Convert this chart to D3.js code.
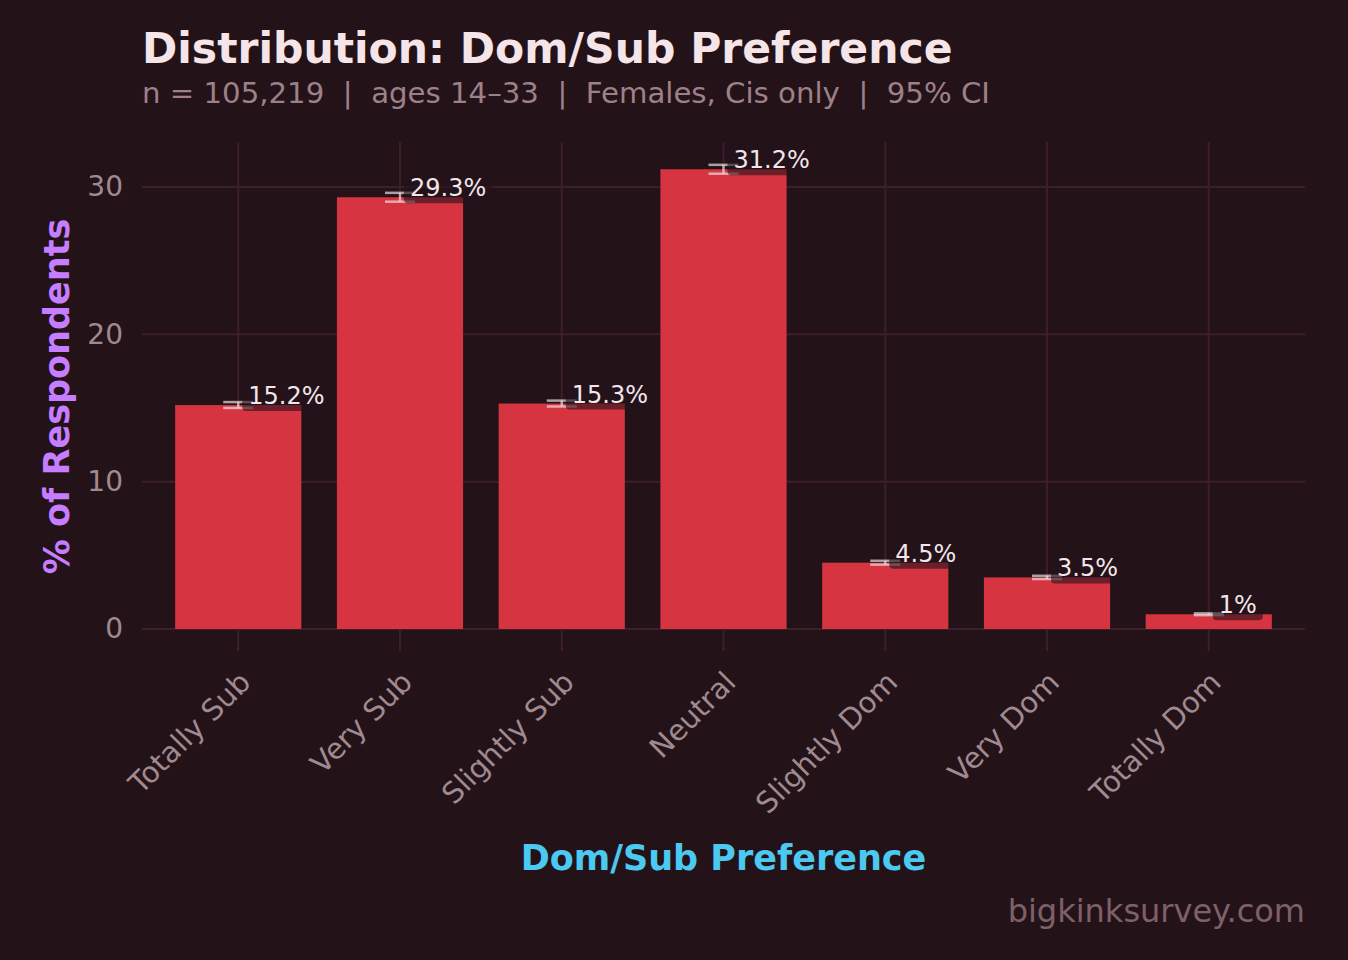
<!DOCTYPE html>
<html><head><meta charset="utf-8">
<script src="https://cdn.jsdelivr.net/npm/d3@7"></script>
<style>
html,body{margin:0;padding:0;background:#231319;}
svg{display:block;font-family:"DejaVu Sans",sans-serif;}
</style></head>
<body>
<svg id="chart" width="1348" height="960"></svg>
<script>
const categories = ["Totally Sub","Very Sub","Slightly Sub","Neutral","Slightly Dom","Very Dom","Totally Dom"];
const values = [15.2, 29.3, 15.3, 31.2, 4.5, 3.5, 1.0];
const valueLabels = ["15.2%","29.3%","15.3%","31.2%","4.5%","3.5%","1%"];
const ciLow = [15.0, 29.0, 15.1, 30.9, 4.37, 3.39, 0.94];
const ciHigh = [15.4, 29.6, 15.5, 31.5, 4.63, 3.61, 1.06];
const yTicks = [0, 10, 20, 30];
const titleText = "Distribution: Dom/Sub Preference";
const subtitleText = "n = 105,219  |  ages 14\u201333  |  Females, Cis only  |  95% CI";
const xTitle = "Dom/Sub Preference";
const yTitle = "% of Respondents";
const watermark = "bigkinksurvey.com";

const svg = d3.select("#chart");
const L = 142, R = 1305, T = 142, B = 629;
svg.append("rect").attr("width",1348).attr("height",960).attr("fill","#231319");

const x = d3.scaleBand().domain(categories).range([L,R]).paddingInner(0.22).paddingOuter(0.205);
const y = d3.scaleLinear().domain([0,33.05]).range([B,T]);

// grid
const g = svg.append("g");
g.selectAll(".hg").data(yTicks).join("line")
  .attr("x1",L).attr("x2",R).attr("y1",d=>y(d)).attr("y2",d=>y(d))
  .attr("stroke","#3e1e2a").attr("stroke-width",2);
g.selectAll(".vg").data(categories).join("line")
  .attr("x1",d=>x(d)+x.bandwidth()/2).attr("x2",d=>x(d)+x.bandwidth()/2)
  .attr("y1",T).attr("y2",B+22)
  .attr("stroke","#3e1e2a").attr("stroke-width",2);

// y axis labels
const yAxis = d3.axisLeft(y).tickValues(yTicks).tickSize(0).tickPadding(19);
const ya = svg.append("g").attr("transform",`translate(${L},0)`).call(yAxis);
ya.select(".domain").remove();
ya.selectAll("text").attr("fill","#a08a90").attr("font-size",28).attr("font-family","DejaVu Sans");

// bars
svg.selectAll(".bar").data(categories).join("rect")
  .attr("x",d=>x(d)).attr("width",x.bandwidth())
  .attr("y",(d,i)=>y(values[i])).attr("height",(d,i)=>y(0)-y(values[i]))
  .attr("fill","#d63441");

// error bars
categories.forEach((c,i)=>{
  const cx = x(c)+x.bandwidth()/2;
  const eg = svg.append("g").attr("stroke","#e8dde0").attr("stroke-opacity",0.7).attr("stroke-width",2.5);
  eg.append("line").attr("x1",cx-15).attr("x2",cx+15).attr("y1",y(ciHigh[i])).attr("y2",y(ciHigh[i]));
  eg.append("line").attr("x1",cx-15).attr("x2",cx+15).attr("y1",y(ciLow[i])).attr("y2",y(ciLow[i]));
  eg.append("line").attr("x1",cx).attr("x2",cx).attr("y1",y(ciHigh[i])).attr("y2",y(ciLow[i]));
});

// value labels
categories.forEach((c,i)=>{
  const cx = x(c)+x.bandwidth()/2;
  const ty = y(values[i]) - 1;
  const t = svg.append("text").attr("x",cx+10).attr("y",ty)
    .attr("font-size",24).attr("fill","#f2e6ea").text(valueLabels[i]);
  const bb = t.node().getBBox();
  svg.insert("rect", () => t.node())
    .attr("x",bb.x-6).attr("y",bb.y-2).attr("width",bb.width+12).attr("height",bb.height+3)
    .attr("rx",4).attr("fill","#231319").attr("fill-opacity",0.6);
});

// x tick labels
svg.selectAll(".xl").data(categories).join("text")
  .attr("transform",d=>`translate(${x(d)+x.bandwidth()/2+14},${B+55}) rotate(-45)`)
  .attr("text-anchor","end").attr("font-size",29).attr("fill","#a08a90").text(d=>d);

// titles
svg.append("text").attr("x",142).attr("y",63).attr("font-size",42.5).attr("font-weight","bold")
  .attr("fill","#f5e4e8").text(titleText);
svg.append("text").attr("x",142).attr("y",103).attr("font-size",29.2)
  .style("white-space","pre").attr("xml:space","preserve")
  .attr("fill","#9e8088").text(subtitleText);
svg.append("text").attr("transform",`translate(69,${(T+B)/2+11}) rotate(-90)`)
  .attr("text-anchor","middle").attr("font-size",35).attr("font-weight","bold")
  .attr("fill","#c77dff").text(yTitle);
svg.append("text").attr("x",(L+R)/2).attr("y",870).attr("text-anchor","middle")
  .attr("font-size",35).attr("font-weight","bold").attr("fill","#4cc9f0").text(xTitle);
svg.append("text").attr("x",1305).attr("y",922).attr("text-anchor","end")
  .attr("font-size",32).attr("fill","#7f6068").text(watermark);
</script>
</body></html>
